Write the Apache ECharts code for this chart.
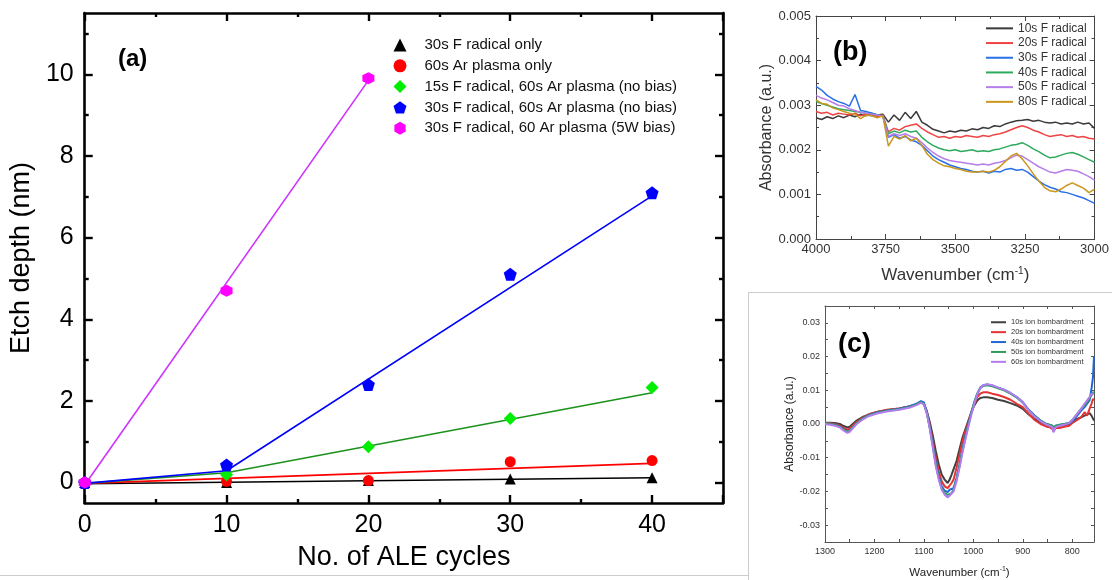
<!DOCTYPE html>
<html>
<head>
<meta charset="utf-8">
<script src="https://cdn.jsdelivr.net/npm/echarts@6/dist/echarts.min.js"></script>
<style>
  html, body { margin: 0; padding: 0; background: #fff; }
  #chart { width: 1112px; height: 580px; }
</style>
</head>
<body>
<div id="chart"></div>
<script>
// ---- (a) etch depth vs ALE cycles ----
const cycles = [0, 10, 20, 30, 40];
const fOnly = [0, 0, 0.05, 0.09, 0.12];
const arOnly = [0, 0.03, 0.05, 0.51, 0.54];
const f15Ar = [0, 0.19, 0.88, 1.57, 2.33];
const f30Ar = [0, 0.43, 2.4, 5.1, 7.1];
const f30ArBias = [0, 4.7, 9.9];           // only 0, 10, 20 cycles

// guide lines drawn through the points
const fitFOnlyX = [0, 40], fitFOnlyY = [-0.03, 0.12];
const fitArOnlyX = [0, 40], fitArOnlyY = [-0.02, 0.47];
const fitF15X = [0, 10, 40], fitF15Y = [-0.02, 0.24, 2.2];
const fitF30X = [0, 10, 40], fitF30Y = [-0.02, 0.29, 7.02];
const fitBiasX = [0, 20], fitBiasY = [-0.06, 9.85];

const namesA = [
  '30s F radical only',
  '60s Ar plasma only',
  '15s F radical, 60s Ar plasma (no bias)',
  '30s F radical, 60s Ar plasma (no bias)',
  '30s F radical, 60 Ar plasma (5W bias)'
];
const yTicksA = [0, 2, 4, 6, 8, 10];
const yMinorA = [1, 3, 5, 7, 9, 11];

// ---- (b) FTIR after F radical, absorbance in 1e-3 a.u. ----
const wnB = [4000, 3980, 3960, 3940, 3920, 3900, 3880, 3860, 3840, 3820, 3800, 3780, 3760, 3740, 3720, 3700, 3680,
  3660, 3640, 3620, 3600, 3580, 3560, 3540, 3520, 3500, 3480, 3460, 3440, 3420, 3400, 3380, 3360, 3340, 3320,
  3300, 3280, 3260, 3240, 3220, 3200, 3180, 3160, 3140, 3120, 3100, 3080, 3060, 3040, 3020, 3000];
const b10 = [2.72, 2.68, 2.74, 2.70, 2.76, 2.72, 2.78, 2.74, 2.80, 2.76, 2.82, 2.78, 2.80, 2.62, 2.78, 2.66, 2.84,
  2.70, 2.86, 2.62, 2.55, 2.46, 2.42, 2.38, 2.42, 2.40, 2.44, 2.42, 2.47, 2.45, 2.50, 2.48, 2.54, 2.52, 2.58,
  2.62, 2.65, 2.66, 2.68, 2.64, 2.66, 2.62, 2.60, 2.62, 2.58, 2.60, 2.58, 2.62, 2.58, 2.60, 2.48];
const b20 = [2.86, 2.82, 2.84, 2.78, 2.82, 2.80, 2.78, 2.82, 2.76, 2.80, 2.78, 2.74, 2.78, 2.40, 2.48, 2.44, 2.52,
  2.55, 2.58, 2.48, 2.40, 2.34, 2.28, 2.30, 2.26, 2.30, 2.28, 2.32, 2.30, 2.28, 2.32, 2.30, 2.34, 2.36, 2.40,
  2.45, 2.50, 2.54, 2.50, 2.44, 2.40, 2.34, 2.30, 2.32, 2.34, 2.30, 2.32, 2.28, 2.30, 2.26, 2.24];
const b30 = [3.42, 3.34, 3.22, 3.14, 3.08, 3.04, 2.98, 3.24, 2.88, 2.86, 2.82, 2.78, 2.76, 2.28, 2.34, 2.26, 2.30,
  2.22, 2.18, 2.10, 1.98, 1.86, 1.78, 1.72, 1.66, 1.62, 1.58, 1.56, 1.52, 1.50, 1.52, 1.48, 1.52, 1.50, 1.56,
  1.58, 1.54, 1.56, 1.50, 1.40, 1.30, 1.22, 1.16, 1.12, 1.06, 1.04, 1.00, 0.96, 0.92, 0.86, 0.80];
const b40 = [3.08, 3.04, 3.00, 2.96, 2.92, 2.90, 2.88, 2.86, 2.84, 2.82, 2.80, 2.78, 2.76, 2.36, 2.42, 2.38, 2.44,
  2.40, 2.42, 2.28, 2.18, 2.10, 2.04, 2.00, 1.98, 2.00, 1.96, 1.98, 2.00, 1.96, 1.98, 1.96, 2.00, 2.02, 2.06,
  2.10, 2.12, 2.16, 2.10, 2.02, 1.96, 1.88, 1.82, 1.84, 1.88, 1.92, 1.94, 1.90, 1.84, 1.78, 1.72];
const b50 = [3.22, 3.16, 3.12, 3.06, 3.00, 2.98, 2.92, 2.88, 2.84, 2.82, 2.80, 2.78, 2.76, 2.30, 2.36, 2.32, 2.36,
  2.30, 2.26, 2.16, 2.04, 1.94, 1.86, 1.80, 1.76, 1.74, 1.72, 1.70, 1.68, 1.66, 1.68, 1.66, 1.70, 1.72, 1.76,
  1.82, 1.88, 1.86, 1.78, 1.70, 1.62, 1.56, 1.50, 1.48, 1.52, 1.56, 1.54, 1.52, 1.46, 1.40, 1.32];
const b80 = [3.12, 3.04, 3.02, 2.94, 2.90, 2.86, 2.82, 2.80, 2.70, 2.78, 2.76, 2.72, 2.76, 2.08, 2.30, 2.24, 2.32,
  2.20, 2.26, 2.10, 1.90, 1.78, 1.70, 1.64, 1.62, 1.58, 1.56, 1.52, 1.50, 1.50, 1.52, 1.50, 1.54, 1.62, 1.74,
  1.86, 1.92, 1.80, 1.64, 1.46, 1.30, 1.16, 1.08, 1.06, 1.12, 1.20, 1.26, 1.20, 1.14, 1.04, 1.12];
const namesB = ['10s F radical', '20s F radical', '30s F radical', '40s F radical', '50s F radical', '80s F radical'];
const colorsB = ['#3a3a3a', '#f04444', '#2a6fe6', '#2eaa5e', '#b77de8', '#c9961f'];

// ---- (c) FTIR after ion bombardment, absorbance in 1e-3 a.u. ----
const wnC = [1300, 1290, 1280, 1270, 1262, 1255, 1250, 1244, 1236, 1225, 1212, 1195, 1175, 1150, 1130, 1115, 1106,
  1100, 1094, 1088, 1082, 1076, 1070, 1064, 1058, 1052, 1048, 1044, 1040, 1034, 1028, 1022, 1016, 1010, 1004,
  998, 992, 986, 980, 972, 962, 950, 938, 925, 912, 900, 888, 876, 864, 852, 845, 840, 838, 834, 826, 816, 806,
  798, 790, 782, 775, 770, 765, 761, 758, 756];
const c10 = [0.4, 0.4, 0.3, 0, -0.6, -1.0, -0.8, 0, 1.0, 2.0, 2.8, 3.6, 4.1, 4.6, 5.2, 5.8, 6.6,
  6.0, 3.8, 0.5, -3.5, -8, -12, -15, -16.5, -17.5, -16.5, -15, -14.5, -11, -7.5, -4, -1.5, 1.0, 3.5,
  5.5, 7.0, 7.7, 7.9, 7.9, 7.7, 7.2, 6.8, 6.2, 5.5, 4.5, 2.8, 1.5, 0.5, -0.3, -0.8, -1.0, -1.5, -0.8, -0.5, -0.3, 0,
  0.8, 1.5, 2.0, 2.5, 2.8, 3.2, 2.5, 3.0, 1.0];
const c20 = [0.3, 0.2, 0, -0.5, -1.2, -1.6, -1.4, -0.5, 0.6, 1.8, 2.8, 3.6, 4.2, 4.6, 5.2, 5.8, 6.6,
  6.0, 3.5, -0.5, -5, -10, -14, -17, -18.5, -19, -18.8, -17.5, -16.5, -13, -9, -5, -2, 0.5, 3.5,
  6.0, 8.0, 9.0, 9.4, 9.4, 9.0, 8.6, 8.0, 7.2, 6.0, 5.0, 3.0, 1.2, 0, -0.8, -1.0, -1.5, -2.2, -1.2, -1.2, -0.8, -0.5,
  0.5, 1.2, 2.0, 3.5, 2.5, 4.5, 6.0, 7.5, 7.0];
const c40 = [0.2, 0, -0.2, -0.8, -1.6, -2.2, -2.0, -1.0, 0.2, 1.5, 2.6, 3.4, 4.0, 4.5, 5.2, 6.0, 6.8,
  6.4, 3.5, -1.0, -6, -11.5, -15.5, -18.5, -19.8, -20.2, -19.5, -19.6, -19, -16, -12, -7.5, -3.5, 0, 3.5,
  6.5, 9.0, 10.8, 11.5, 11.7, 11.4, 10.8, 10.2, 9.2, 8.0, 6.5, 4.2, 2.5, 1.0, 0, -0.3, -0.5, -1.5, -0.5, -0.3, 0, 0.2,
  1.0, 2.5, 4.0, 5.0, 6.0, 7.0, 10.5, 14.0, 20.0];
const c50 = [0.2, 0, -0.3, -0.9, -1.7, -2.3, -2.0, -1.0, 0.2, 1.5, 2.5, 3.3, 3.9, 4.4, 5.0, 5.8, 6.5,
  6.0, 3.2, -1.2, -6.5, -12, -16, -19, -20.5, -21, -21.5, -20.5, -19.5, -16.5, -12.5, -8, -4, -0.3, 3.2,
  6.5, 9.0, 10.6, 11.3, 11.5, 11.2, 10.6, 10.0, 9.0, 7.8, 6.3, 4.0, 2.3, 1.0, 0, -0.3, -0.6, -1.6, -0.6, -0.2, 0, 0.4,
  1.5, 3.0, 4.5, 5.5, 6.5, 7.5, 8.5, 9.5, 9.0];
const c60 = [0, -0.2, -0.5, -1.0, -2.0, -2.6, -2.3, -1.3, 0, 1.2, 2.3, 3.1, 3.7, 4.2, 4.8, 5.6, 6.3,
  5.8, 3.0, -1.5, -7, -12.5, -16.5, -19.5, -21, -21.8, -21.2, -20.8, -20, -17, -13, -8.5, -4.5, -0.8, 2.8,
  6.0, 8.8, 10.6, 11.5, 11.8, 11.5, 10.8, 10.2, 9.2, 8.0, 6.4, 4.0, 2.2, 0.8, -0.2, -0.6, -1.0, -2.5, -1.0, -0.5, -0.2, 0.3,
  1.5, 3.0, 4.5, 6.0, 7.0, 8.0, 9.0, 9.5, 9.0];
const namesC = ['10s ion bombardment', '20s ion bombardment', '40s ion bombardment', '50s ion bombardment', '60s ion bombardment'];
const colorsC = ['#404040', '#e63232', '#1f66d8', '#2c9e5a', '#b27cf0'];
const xLabelsC = [1300, 1200, 1100, 1000, 900, 800];
const xTicksC = [1300, 1250, 1200, 1150, 1100, 1050, 1000, 950, 900, 850, 800];

const FONT = "'Liberation Sans', Arial, sans-serif";

function pairs(xs, ys) {
  return ys.map(function (y, i) { return [xs[i], y]; });
}
function plain(v) { return String(v); }

var chart = echarts.init(document.getElementById('chart'), null, { renderer: 'canvas' });

var pentagon = 'path://M0,-10 L9.51,-3.09 L5.88,8.09 L-5.88,8.09 L-9.51,-3.09 Z';
var hexagon = 'path://M0,-10 L8.66,-5 L8.66,5 L0,10 L-8.66,5 L-8.66,-5 Z';

// every axis is a plain frame side; no crossing at zero
function frameAxis(grid, pos, color, width, lineShow) {
  return {
    type: 'value', gridIndex: grid, position: pos,
    axisLine: { show: lineShow !== false, onZero: false, lineStyle: { color: color, width: width } },
    axisLabel: { show: false }, splitLine: { show: false }
  };
}

var series = [];

// (a) guide lines
var fitsA = [
  [fitFOnlyX, fitFOnlyY, '#000000'],
  [fitArOnlyX, fitArOnlyY, '#ff0000'],
  [fitF15X, fitF15Y, '#1c911c'],
  [fitF30X, fitF30Y, '#0000ff'],
  [fitBiasX, fitBiasY, '#cc33ff']
];
fitsA.forEach(function (f, i) {
  series.push({
    name: 'fit ' + i, type: 'line', xAxisIndex: 0, yAxisIndex: 0,
    data: pairs(f[0], f[1]), symbol: 'none',
    lineStyle: { color: f[2], width: 1.6 }, z: 2
  });
});

// (a) points
var pointsA = [
  [fOnly, 'triangle', '#000000', 11],
  [arOnly, 'circle', '#ff0000', 11],
  [f15Ar, 'diamond', '#00ee00', 13],
  [f30Ar, pentagon, '#0000ff', 13],
  [f30ArBias, hexagon, '#ff00ff', 12]
];
pointsA.forEach(function (p, i) {
  series.push({
    name: namesA[i], type: 'scatter', xAxisIndex: 0, yAxisIndex: 0,
    data: pairs(cycles, p[0]), symbol: p[1], symbolSize: p[3],
    itemStyle: { color: p[2], opacity: 1 }, z: 3
  });
});

// (b)
[b10, b20, b30, b40, b50, b80].forEach(function (ys, i) {
  series.push({
    name: namesB[i], type: 'line', xAxisIndex: 2, yAxisIndex: 4,
    data: pairs(wnB, ys), symbol: 'none',
    lineStyle: { color: colorsB[i], width: 1.5 }, itemStyle: { color: colorsB[i] }
  });
});

// (c)
[c10, c20, c40, c50, c60].forEach(function (ys, i) {
  series.push({
    name: namesC[i], type: 'line', xAxisIndex: 4, yAxisIndex: 6,
    data: pairs(wnC, ys), symbol: 'none',
    lineStyle: { color: colorsC[i], width: 2 }, itemStyle: { color: colorsC[i] }
  });
});

var tickA = { width: 2.4, color: '#000' };

var option = {
  animation: false,
  textStyle: { fontFamily: FONT },
  grid: [
    { left: 83, top: 13, width: 640, height: 490 },
    { left: 816, top: 16, width: 282, height: 223 },
    { left: 825, top: 306, width: 269, height: 236 }
  ],
  xAxis: [
    Object.assign(frameAxis(0, 'bottom', '#000', 2.6), {
      min: 0, max: 45, interval: 10,
      name: 'No. of ALE cycles', nameLocation: 'middle', nameGap: 41,
      nameTextStyle: { fontSize: 27, color: '#000', fontFamily: FONT },
      axisLabel: { show: true, fontSize: 25, color: '#000', margin: 10, fontFamily: FONT,
        showMaxLabel: false, formatter: plain },
      axisTick: { show: true, inside: true, length: 8, lineStyle: tickA },
      minorTick: { show: true, splitNumber: 2, length: 4, lineStyle: tickA }
    }),
    Object.assign(frameAxis(0, 'top', '#000', 2.6), {
      min: 0, max: 45, interval: 10,
      axisTick: { show: true, inside: true, length: 8, lineStyle: tickA },
      minorTick: { show: true, splitNumber: 2, length: 4, lineStyle: tickA }
    }),
    Object.assign(frameAxis(1, 'bottom', '#444', 1), {
      min: 3000, max: 4000, interval: 250, inverse: true,
      name: 'Wavenumber (cm{sup|-1})', nameLocation: 'middle', nameGap: 27,
      nameTextStyle: { fontSize: 17, color: '#333', fontFamily: FONT,
        rich: { sup: { fontSize: 10, verticalAlign: 'top', padding: [0, 0, 8, 0], color: '#333' } } },
      axisLabel: { show: true, fontSize: 13, color: '#333', margin: 4, fontFamily: FONT, formatter: plain },
      axisTick: { show: true, inside: true, length: 5, lineStyle: { color: '#444' } },
      minorTick: { show: true, splitNumber: 2, length: 3, lineStyle: { color: '#444' } }
    }),
    Object.assign(frameAxis(1, 'top', '#444', 1), {
      min: 3000, max: 4000, interval: 250, inverse: true,
      axisTick: { show: true, inside: true, length: 5, lineStyle: { color: '#444' } },
      minorTick: { show: true, splitNumber: 2, length: 3, lineStyle: { color: '#444' } }
    }),
    Object.assign(frameAxis(2, 'bottom', '#555', 1), {
      min: 756, max: 1300, inverse: true,
      name: 'Wavenumber (cm{sup|-1})', nameLocation: 'middle', nameGap: 24,
      nameTextStyle: { fontSize: 11.5, color: '#222', fontFamily: FONT,
        rich: { sup: { fontSize: 7, verticalAlign: 'top', padding: [0, 0, 6, 0], color: '#222' } } },
      axisLabel: { show: true, fontSize: 9, color: '#333', margin: 5, fontFamily: FONT,
        customValues: xLabelsC, formatter: plain },
      axisTick: { show: true, inside: true, length: 3, customValues: xTicksC, lineStyle: { color: '#555' } }
    }),
    Object.assign(frameAxis(2, 'top', '#555', 1), {
      min: 756, max: 1300, inverse: true,
      axisTick: { show: true, inside: true, length: 3, customValues: xTicksC, lineStyle: { color: '#555' } }
    })
  ],
  yAxis: [
    Object.assign(frameAxis(0, 'left', '#000', 2.6), {
      min: -0.5, max: 11.5,
      name: 'Etch depth (nm)', nameLocation: 'middle', nameGap: 45,
      nameTextStyle: { fontSize: 27, color: '#000', fontFamily: FONT },
      axisLabel: { show: true, fontSize: 25, color: '#000', margin: 11, fontFamily: FONT,
        customValues: yTicksA, formatter: plain },
      axisTick: { show: true, inside: true, length: 8, customValues: yTicksA, lineStyle: tickA }
    }),
    Object.assign(frameAxis(0, 'left', '#000', 2.6, false), {
      min: -0.5, max: 11.5,
      axisTick: { show: true, inside: true, length: 4, customValues: yMinorA, lineStyle: tickA }
    }),
    Object.assign(frameAxis(0, 'right', '#000', 2.6), {
      min: -0.5, max: 11.5,
      axisTick: { show: true, inside: true, length: 8, customValues: yTicksA, lineStyle: tickA }
    }),
    Object.assign(frameAxis(0, 'right', '#000', 2.6, false), {
      min: -0.5, max: 11.5,
      axisTick: { show: true, inside: true, length: 4, customValues: yMinorA, lineStyle: tickA }
    }),
    Object.assign(frameAxis(1, 'left', '#444', 1), {
      min: 0, max: 5, interval: 1,
      name: 'Absorbance (a.u.)', nameLocation: 'middle', nameGap: 41,
      nameTextStyle: { fontSize: 16, color: '#333', fontFamily: FONT },
      axisLabel: { show: true, fontSize: 13, color: '#333', margin: 5, fontFamily: FONT,
        formatter: function (v) { return (v / 1000).toFixed(3); } },
      axisTick: { show: true, inside: true, length: 5, lineStyle: { color: '#444' } },
      minorTick: { show: true, splitNumber: 2, length: 3, lineStyle: { color: '#444' } }
    }),
    Object.assign(frameAxis(1, 'right', '#444', 1), {
      min: 0, max: 5, interval: 1,
      axisTick: { show: true, inside: true, length: 5, lineStyle: { color: '#444' } },
      minorTick: { show: true, splitNumber: 2, length: 3, lineStyle: { color: '#444' } }
    }),
    Object.assign(frameAxis(2, 'left', '#555', 1), {
      min: -35, max: 35, interval: 5,
      name: 'Absorbance (a.u.)', nameLocation: 'middle', nameGap: 29,
      nameTextStyle: { fontSize: 12, color: '#222', fontFamily: FONT },
      axisLabel: { show: true, fontSize: 9, color: '#333', margin: 5, fontFamily: FONT,
        formatter: function (v) { return v % 10 === 0 ? (v / 1000).toFixed(2) : ''; } },
      axisTick: { show: true, inside: true, length: 3, lineStyle: { color: '#555' } }
    }),
    Object.assign(frameAxis(2, 'right', '#555', 1), {
      min: -35, max: 35, interval: 5,
      axisTick: { show: true, inside: true, length: 3, lineStyle: { color: '#555' } }
    })
  ],
  legend: [
    {
      data: namesA, orient: 'vertical', left: 393.5, top: 34.6, padding: 0,
      itemWidth: 13, itemHeight: 13, itemGap: 0,
      textStyle: { fontSize: 15, color: '#111', lineHeight: 20.8, fontFamily: FONT, padding: [0, 0, 0, 13] }
    },
    {
      data: namesB, orient: 'vertical', left: 986, top: 21, padding: 0,
      icon: 'rect', itemWidth: 27, itemHeight: 2, itemGap: 0,
      textStyle: { fontSize: 12, color: '#333', lineHeight: 14.7, fontFamily: FONT }
    },
    {
      data: namesC, orient: 'vertical', left: 991, top: 317.3, padding: 0,
      icon: 'rect', itemWidth: 15, itemHeight: 2, itemGap: 0,
      textStyle: { fontSize: 7.5, color: '#333', lineHeight: 9.9, fontFamily: FONT }
    }
  ],
  graphic: [
    { type: 'text', left: 118, top: 47, style: { text: '(a)', font: 'bold 24px ' + FONT, fill: '#000' } },
    { type: 'text', left: 833, top: 39, style: { text: '(b)', font: 'bold 27px ' + FONT, fill: '#000' } },
    { type: 'text', left: 838, top: 331, style: { text: '(c)', font: 'bold 27px ' + FONT, fill: '#000' } },
    { type: 'line', shape: { x1: 0, y1: 575.5, x2: 748, y2: 575.5 }, style: { stroke: '#cccccc', lineWidth: 1 } },
    { type: 'line', shape: { x1: 748.5, y1: 292, x2: 748.5, y2: 580 }, style: { stroke: '#cccccc', lineWidth: 1 } },
    { type: 'line', shape: { x1: 748, y1: 292.5, x2: 1112, y2: 292.5 }, style: { stroke: '#cccccc', lineWidth: 1 } }
  ],
  series: series
};

chart.setOption(option);
</script>
</body>
</html>
